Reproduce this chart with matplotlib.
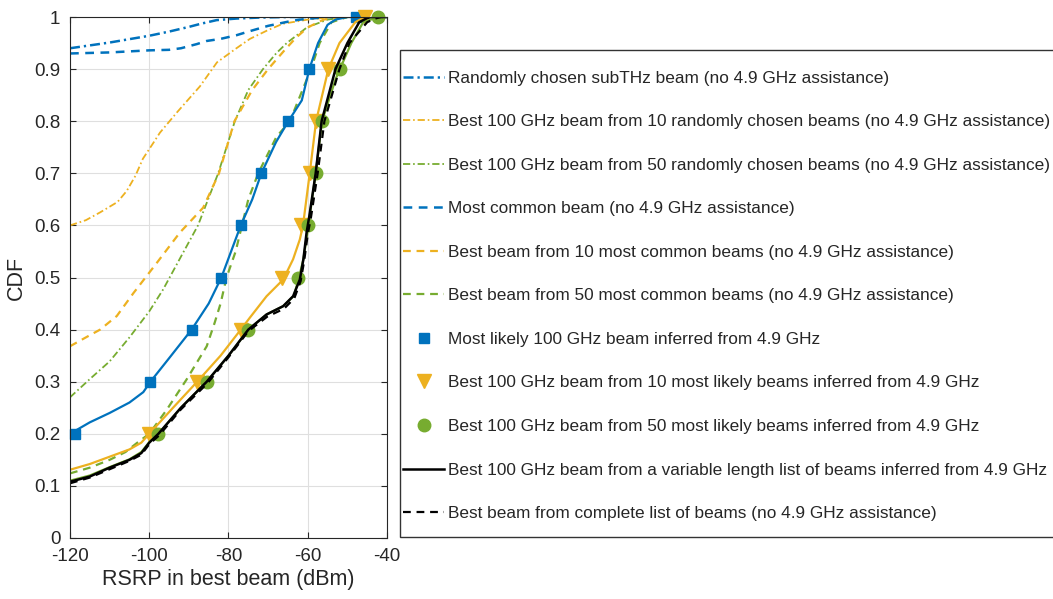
import matplotlib
matplotlib.use("Agg")
import matplotlib.pyplot as plt
from matplotlib.patches import Rectangle

plt.rcParams['font.family'] = ['Liberation Sans', 'DejaVu Sans']

BLUE = '#0072BD'
YELLOW = '#EDB120'
GREEN = '#77AC30'
TXT = '#262626'

# ---------------- data ----------------
rand_sub_x = [-120, -110, -100, -95, -90, -87, -83, -78, -72, -65, -55, -45, -40]
rand_sub_y = [0.940, 0.951, 0.964, 0.972, 0.981, 0.987, 0.994, 0.997, 0.999, 1.0, 1.0, 1.0, 1.0]

rand10_x = [-120, -116, -112.4, -108, -105.7, -103.5, -101.6, -99, -97.3, -93, -87.2, -82.9, -78,
            -74.6, -70, -66.3, -60, -53.7, -45]
rand10_y = [0.60, 0.61, 0.625, 0.645, 0.666, 0.695, 0.728, 0.758, 0.778, 0.817, 0.867, 0.913, 0.94,
            0.958, 0.975, 0.987, 0.995, 1.0, 1.0]

rand50_x = [-120, -115, -110, -105, -100, -96.5, -92, -87.7, -82.6, -78.4, -75, -71.3, -68, -65.3,
            -60.2, -55, -50]
rand50_y = [0.27, 0.305, 0.339, 0.385, 0.435, 0.477, 0.54, 0.60, 0.70, 0.80, 0.86, 0.90, 0.93, 0.95,
            0.98, 0.995, 1.0]

common1_x = [-120, -110, -100, -95, -92, -88, -85.5, -82, -78, -75, -70, -65, -62, -55, -50]
common1_y = [0.930, 0.932, 0.936, 0.937, 0.940, 0.948, 0.954, 0.958, 0.965, 0.972, 0.983, 0.991,
             0.995, 1.0, 1.0]

common10_x = [-120, -116, -112.4, -108.2, -104, -98.1, -92.3, -86.4, -82.4, -78.5, -74, -70, -66,
              -63, -60, -56, -52]
common10_y = [0.368, 0.385, 0.40, 0.426, 0.47, 0.528, 0.586, 0.634, 0.70, 0.80, 0.86, 0.90, 0.935,
              0.96, 0.98, 0.995, 1.0]

common50_x = [-120, -115, -110, -106, -103, -100, -95.6, -90.6, -85.5, -83.5, -82, -80.5, -78.2,
              -76.6, -75, -72.5, -67.9, -64.5, -59.2, -57, -54, -50]
common50_y = [0.124, 0.135, 0.15, 0.165, 0.183, 0.20, 0.246, 0.304, 0.368, 0.413, 0.45, 0.50, 0.55,
              0.60, 0.65, 0.70, 0.77, 0.80, 0.90, 0.95, 0.99, 1.0]

inf1_x = [-120, -115, -110, -105, -101.5, -99.7, -95, -89.3, -85, -81.8, -76.9, -74, -71.7, -68,
          -64.9, -61.5, -59.6, -57.4, -55, -53, -50, -47.7]
inf1_y = [0.20, 0.222, 0.24, 0.26, 0.28, 0.30, 0.345, 0.40, 0.45, 0.50, 0.60, 0.65, 0.70, 0.76,
          0.80, 0.84, 0.90, 0.95, 0.985, 0.995, 1.0, 1.0]

inf10_x = [-120, -115, -110, -105, -102, -100, -94, -87.9, -82, -76.9, -74.6, -70.4, -66.2, -63.7,
           -62, -61.2, -59.5, -57.9, -54.8, -52, -48, -45.6]
inf10_y = [0.131, 0.142, 0.156, 0.17, 0.183, 0.20, 0.25, 0.30, 0.35, 0.40, 0.423, 0.464, 0.496,
           0.535, 0.573, 0.60, 0.70, 0.80, 0.90, 0.95, 0.99, 1.0]

inf50_x = [-120, -115, -110, -105, -102, -100, -97.7, -92, -85.5, -80, -75, -70.4, -66.2, -63.5,
           -62.2, -61.1, -60.1, -59.5, -58, -56.4, -53, -51.9, -49, -46, -42.2]
inf50_y = [0.110, 0.120, 0.136, 0.151, 0.165, 0.184, 0.20, 0.25, 0.30, 0.35, 0.40, 0.429, 0.445,
           0.465, 0.50, 0.535, 0.586, 0.618, 0.70, 0.80, 0.88, 0.90, 0.95, 0.99, 1.0]

varlen_x = [-120, -115, -110, -105, -102, -100, -97.7, -92, -85.5, -80, -75, -70.4, -66.2, -63.7,
            -62, -61.1, -60.3, -59.6, -58, -56.5, -53, -50, -47, -45, -44, -40]
varlen_y = [0.108, 0.118, 0.135, 0.15, 0.163, 0.183, 0.20, 0.25, 0.30, 0.35, 0.40, 0.429, 0.445,
            0.464, 0.496, 0.535, 0.586, 0.618, 0.70, 0.80, 0.90, 0.95, 0.99, 0.998, 1.0, 1.0]

complete_x = [-120, -115, -110, -105, -102, -100, -97.5, -92, -85.3, -80, -75, -70.2, -66, -63.4,
              -61.8, -60.9, -60, -59.2, -57.5, -55.8, -52, -49.5, -45, -43, -41.5, -40]
complete_y = [0.105, 0.116, 0.132, 0.148, 0.160, 0.180, 0.197, 0.247, 0.297, 0.347, 0.397, 0.425,
              0.44, 0.46, 0.493, 0.532, 0.583, 0.615, 0.70, 0.80, 0.90, 0.95, 0.99, 0.997, 1.0, 1.0]

marker_levels = [0.2, 0.3, 0.4, 0.5, 0.6, 0.7, 0.8, 0.9, 1.0]
inf1_mx = [-118.7, -99.7, -89.3, -81.8, -76.9, -71.7, -64.9, -59.6, -47.7]
inf10_mx = [-100.1, -87.9, -76.9, -66.4, -61.6, -59.5, -57.9, -54.8, -45.6]
inf50_mx = [-97.7, -85.5, -75.0, -62.4, -59.9, -57.9, -56.3, -51.9, -42.2]

labels = [
    'Randomly chosen subTHz beam (no 4.9 GHz assistance)',
    'Best 100 GHz beam from 10 randomly chosen beams (no 4.9 GHz assistance)',
    'Best 100 GHz beam from 50 randomly chosen beams (no 4.9 GHz assistance)',
    'Most common beam (no 4.9 GHz assistance)',
    'Best beam from 10 most common beams (no 4.9 GHz assistance)',
    'Best beam from 50 most common beams (no 4.9 GHz assistance)',
    'Most likely 100 GHz beam inferred from 4.9 GHz',
    'Best 100 GHz beam from 10 most likely beams inferred from 4.9 GHz',
    'Best 100 GHz beam from 50 most likely beams inferred from 4.9 GHz',
    'Best 100 GHz beam from a variable length list of beams inferred from 4.9 GHz',
    'Best beam from complete list of beams (no 4.9 GHz assistance)',
]

# ---------------- figure ----------------
W, H = 1053, 599
fig = plt.figure(figsize=(W / 100, H / 100), dpi=100)
ax = fig.add_axes([70 / W, 1 - 538 / H, (387 - 70) / W, (538 - 17) / H])

DD = (4, 1.6, 0.9, 1.6)
DA = (3.5, 2.6)
handles = []
h, = ax.plot(rand_sub_x, rand_sub_y, color=BLUE, lw=1.8, dashes=DD)
handles.append(h)
h, = ax.plot(rand10_x, rand10_y, color=YELLOW, lw=1.3, dashes=DD)
handles.append(h)
h, = ax.plot(rand50_x, rand50_y, color=GREEN, lw=1.3, dashes=DD)
handles.append(h)
h, = ax.plot(common1_x, common1_y, color=BLUE, lw=1.8, dashes=DA)
handles.append(h)
h, = ax.plot(common10_x, common10_y, color=YELLOW, lw=1.6, dashes=DA)
handles.append(h)
h, = ax.plot(common50_x, common50_y, color=GREEN, lw=1.6, dashes=DA)
handles.append(h)

ax.plot(inf1_x, inf1_y, color=BLUE, lw=1.6)
h, = ax.plot(inf1_mx, marker_levels, ls='none', marker='s', ms=7, color=BLUE, clip_on=False)
handles.append(h)
ax.plot(inf10_x, inf10_y, color=YELLOW, lw=1.6)
h, = ax.plot(inf10_mx, marker_levels, ls='none', marker='v', ms=10, color=YELLOW, clip_on=False)
handles.append(h)
ax.plot(inf50_x, inf50_y, color=GREEN, lw=1.6)
h, = ax.plot(inf50_mx, marker_levels, ls='none', marker='o', ms=9, color=GREEN, clip_on=False)
handles.append(h)
h, = ax.plot(varlen_x, varlen_y, color='black', lw=1.8)
handles.append(h)
h, = ax.plot(complete_x, complete_y, color='black', lw=1.6, dashes=DA)
handles.append(h)

ax.set_xlim(-120, -40)
ax.set_ylim(0, 1)
ax.set_xticks([-120, -100, -80, -60, -40])
ax.set_xticklabels(['-120', '-100', '-80', '-60', '-40'])
yt = [0, 0.1, 0.2, 0.3, 0.4, 0.5, 0.6, 0.7, 0.8, 0.9, 1.0]
ax.set_yticks(yt)
ax.set_yticklabels(['0', '0.1', '0.2', '0.3', '0.4', '0.5', '0.6', '0.7', '0.8', '0.9', '1'])
ax.grid(True, color='#dfdfdf', lw=0.8)
ax.set_axisbelow(True)
ax.tick_params(direction='in', length=4, width=0.8, colors=TXT, labelsize=13.5,
               top=True, right=True, pad=7)
for s in ax.spines.values():
    s.set_color(TXT)
    s.set_linewidth(0.8)
ax.set_xlabel('RSRP in best beam (dBm)', fontsize=15.5, color=TXT, labelpad=3)
ax.set_ylabel('CDF', fontsize=15.5, color=TXT, labelpad=5)

# legend
fig.add_artist(Rectangle((400 / W, 1 - 537 / H), (1070 - 400) / W, (537 - 50) / H,
                         transform=fig.transFigure, fill=True, facecolor='white',
                         edgecolor='#333333', lw=1.0, clip_on=False))
leg = fig.legend(handles, labels, loc='upper left', bbox_to_anchor=(403 / W, 1 - 70.5 / H),
                 frameon=False, fontsize=12.4, handlelength=2.4, handletextpad=0.22,
                 labelspacing=1.655, borderpad=0.0, borderaxespad=0.0,
                 markerscale=1.0, numpoints=1)
for t in leg.get_texts():
    t.set_color(TXT)

fig.savefig('out.png', dpi=100)
